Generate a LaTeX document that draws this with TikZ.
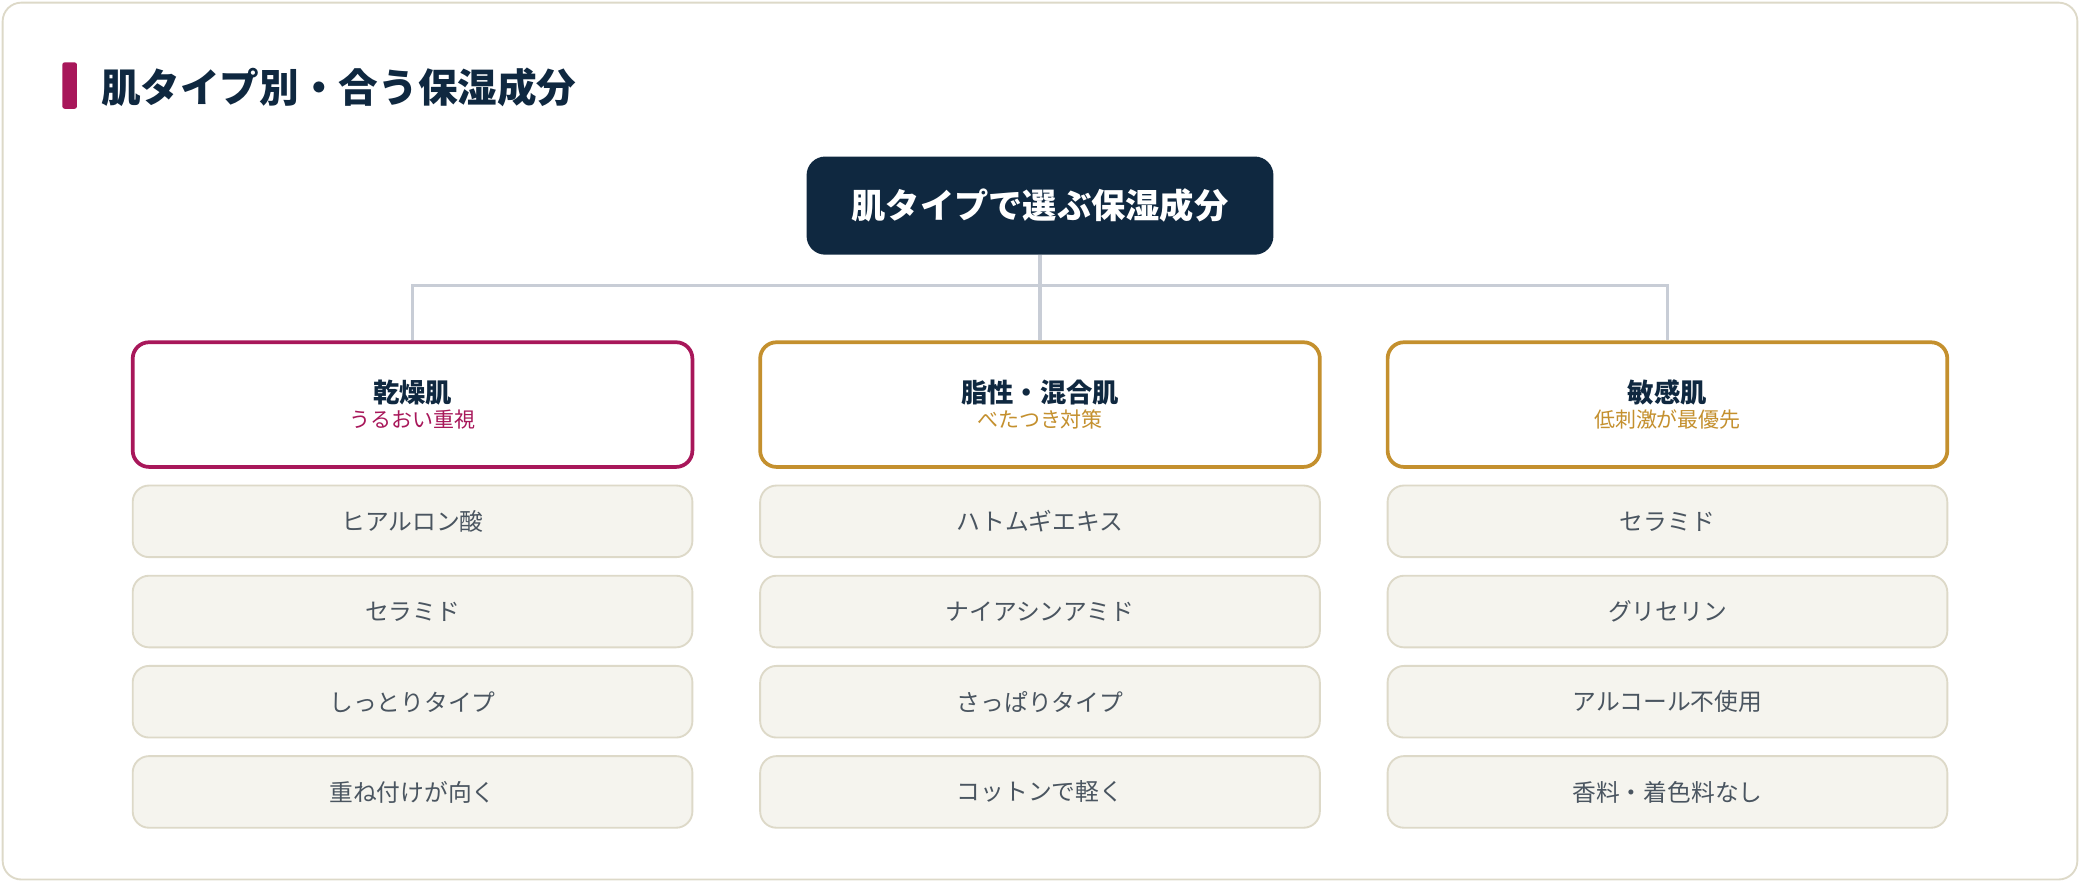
\documentclass[tikz,border=0pt]{standalone}
\usepackage{fontspec}
\setmainfont{Noto Sans CJK JP}
\usetikzlibrary{positioning}
\definecolor{navy}{HTML}{0F2840}
\definecolor{berry}{HTML}{A8175A}
\definecolor{gold}{HTML}{C4902E}
\definecolor{linegray}{HTML}{C8CDD6}
\definecolor{itemfill}{HTML}{F5F4EE}
\definecolor{itemline}{HTML}{DDD9C8}
\definecolor{itemtext}{HTML}{4A5560}
\tikzset{
  cat/.style={draw=#1, line width=1.6pt, fill=white, rounded corners=7pt,
    minimum width=8.44cm, minimum height=1.88cm, align=center},
  item/.style={draw=itemline, line width=0.8pt, fill=itemfill, rounded corners=7pt,
    minimum width=8.44cm, minimum height=1.08cm, text=itemtext, font=\fontsize{10.2}{12}\selectfont},
  link/.style={draw=linegray, line width=1.4pt}
}
\begin{document}
\begin{tikzpicture}[x=0.02cm,y=-0.02cm]
  \useasboundingbox (0,0) rectangle (1568,665);
  \draw[draw=itemline, line width=0.8pt, fill=white, rounded corners=8pt] (2,2) rectangle (1566,663);

  % title
  \fill[berry, rounded corners=1pt] (47,47) rectangle (58,82);
  \node[anchor=west, text=navy, font=\bfseries\fontsize{17}{20}\selectfont] (title) at (70,66) {肌タイプ別・合う保湿成分};

  % root
  \node[fill=navy, rounded corners=8pt, minimum width=7.04cm, minimum height=1.48cm,
    text=white, font=\bfseries\fontsize{14.7}{17}\selectfont] (root) at (784,155) {肌タイプで選ぶ保湿成分};

  % categories
  \node[cat=berry] (dry) at (311,305) {{\bfseries\fontsize{11.3}{14}\selectfont\color{navy}乾燥肌}\\[-1pt]{\fontsize{9}{11}\selectfont\color{berry}うるおい重視}};
  \node[cat=gold] (oily) at (784,305) {{\bfseries\fontsize{11.3}{14}\selectfont\color{navy}脂性・混合肌}\\[-1pt]{\fontsize{9}{11}\selectfont\color{gold}べたつき対策}};
  \node[cat=gold] (sens) at (1257,305) {{\bfseries\fontsize{11.3}{14}\selectfont\color{navy}敏感肌}\\[-1pt]{\fontsize{9}{11}\selectfont\color{gold}低刺激が最優先}};

  % connectors
  \coordinate (hub) at (784,215);
  \draw[link] (root.south) -- (hub);
  \draw[link] (hub) -| (dry.north);
  \draw[link] (hub) -- (oily.north);
  \draw[link] (hub) -| (sens.north);

  % items
  \foreach \t [count=\i] in {ヒアルロン酸,セラミド,しっとりタイプ,重ね付けが向く}
    \node[item] (dry\i) at (311,325+68*\i) {\t};
  \foreach \t [count=\i] in {ハトムギエキス,ナイアシンアミド,さっぱりタイプ,コットンで軽く}
    \node[item] (oily\i) at (784,325+68*\i) {\t};
  \foreach \t [count=\i] in {セラミド,グリセリン,アルコール不使用,香料・着色料なし}
    \node[item] (sens\i) at (1257,325+68*\i) {\t};
\end{tikzpicture}
\end{document}
